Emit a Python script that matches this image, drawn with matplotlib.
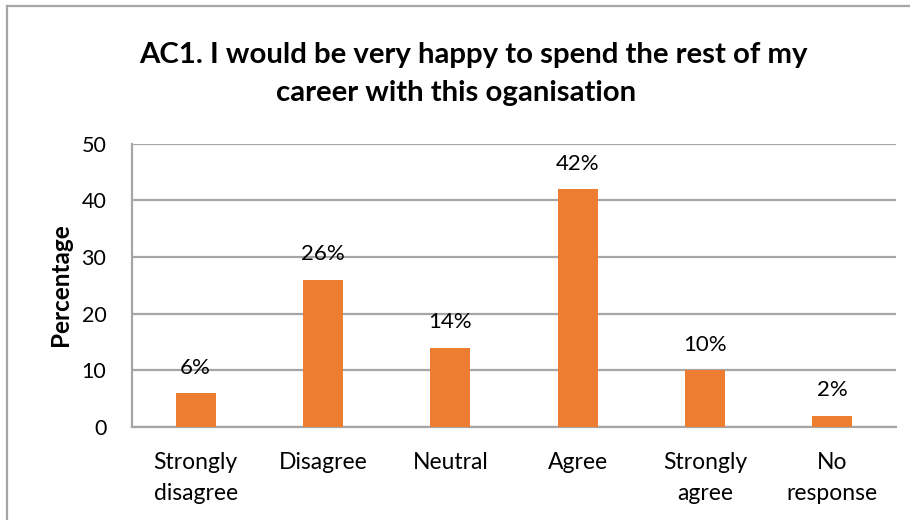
import matplotlib
matplotlib.use("Agg")
import matplotlib.pyplot as plt
from matplotlib.lines import Line2D

plt.rcParams['font.family'] = ['Lato', 'DejaVu Sans']

categories = ["Strongly\ndisagree", "Disagree", "Neutral", "Agree", "Strongly\nagree", "No\nresponse"]
values = [6, 26, 14, 42, 10, 2]
yticks = [0, 10, 20, 30, 40, 50]
title_lines = ["AC1. I would be very happy to spend the rest of my",
               "career with this oganisation"]

W, H = 910, 520
fig = plt.figure(figsize=(W / 100, H / 100), dpi=100)
ax = fig.add_axes([132 / W, 1 - 427 / H, (896 - 132) / W, (427 - 143.5) / H])

bar_color = "#ED7D31"
grid_color = "#A6A6A6"

x = list(range(len(categories)))
ax.bar(x, values, width=0.315, color=bar_color, zorder=3)
ax.set_xlim(-0.5, len(categories) - 0.5)
ax.set_ylim(0, 50)
ax.set_yticks(yticks)
ax.set_xticks(x)
ax.set_xticklabels(categories, fontsize=16.5, linespacing=1.6)
ax.tick_params(axis='x', length=0, pad=18)
ax.tick_params(axis='y', length=0, pad=18.5, labelsize=15.5)

ax.grid(axis='y', color=grid_color, linewidth=1.6, zorder=0)
for side in ['top', 'right']:
    ax.spines[side].set_visible(False)
for side in ['left', 'bottom']:
    ax.spines[side].set_color(grid_color)
    ax.spines[side].set_linewidth(1.6)

for xi, v in zip(x, values):
    ax.annotate(f"{v}%", (xi, v), xytext=(0, 11), textcoords='offset points',
                ha='center', va='bottom', fontsize=16)

fig.text(61 / W, 1 - 285 / H, "Percentage", rotation=90, ha='center', va='center',
         fontsize=17.5, fontweight='bold')

fig.text(473 / W, 1 - 63 / H, title_lines[0], ha='center', va='baseline',
         fontsize=21.2, fontweight='bold')
fig.text(456 / W, 1 - 101.5 / H, title_lines[1], ha='center', va='baseline',
         fontsize=21.2, fontweight='bold')

# chart frame (left and top edges)
fig.add_artist(Line2D([6.5 / W, 6.5 / W], [0, 1 - 5.5 / H], color=grid_color,
                      linewidth=1.6, transform=fig.transFigure))
fig.add_artist(Line2D([6.5 / W, 1], [1 - 5.5 / H, 1 - 5.5 / H], color=grid_color,
                      linewidth=1.6, transform=fig.transFigure))

fig.savefig("out.png", dpi=100)
